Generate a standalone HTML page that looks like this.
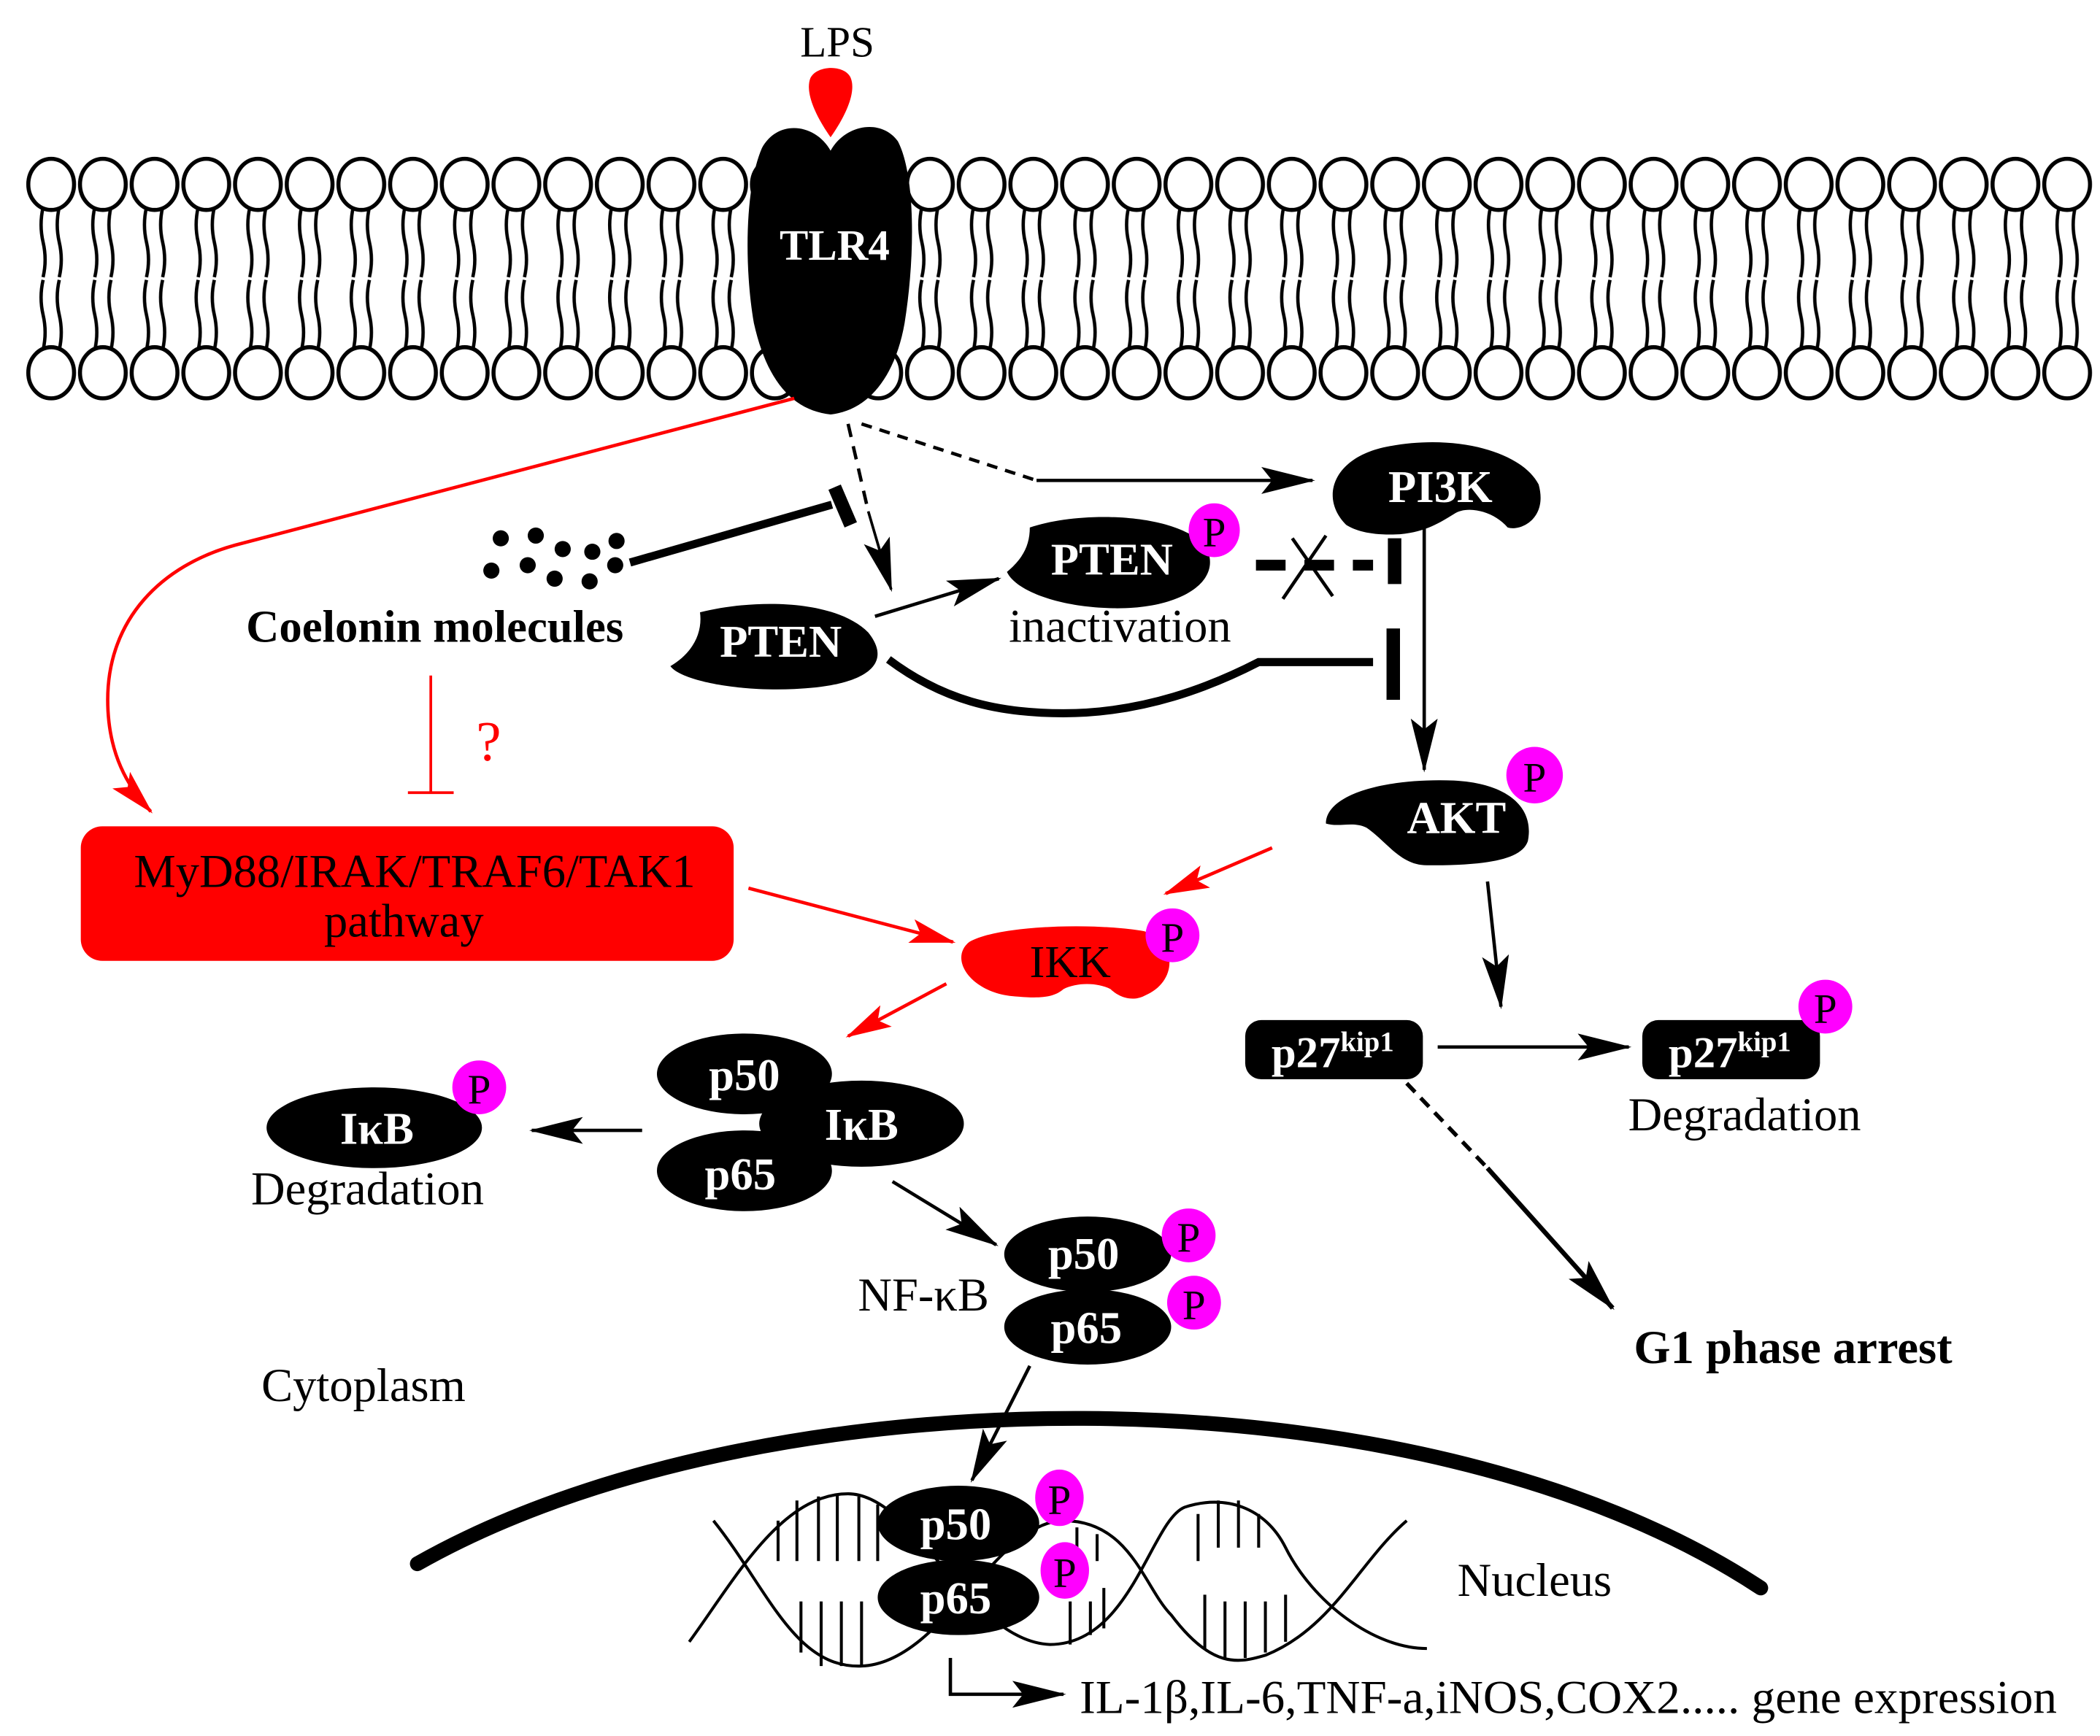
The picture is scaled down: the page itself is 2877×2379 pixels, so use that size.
<!DOCTYPE html>
<html><head><meta charset="utf-8"><style>html,body{margin:0;padding:0;background:#fff}svg{display:block}</style></head>
<body>
<svg xmlns="http://www.w3.org/2000/svg" width="2877" height="2379" viewBox="0 0 1560 1290" font-family="Liberation Serif, serif">
<defs>
<pattern id="lip" x="19" y="0" width="38.4" height="1290" patternUnits="userSpaceOnUse">
<g fill="#fff" stroke="#000" stroke-width="3">
<path d="M13 154 q-3 13 0 26 q3 13 0 26 M25 154 q-3 13 0 26 q3 13 0 26 M13 208 q-3 13 0 26 q3 13 0 26 M25 208 q-3 13 0 26 q3 13 0 26" fill="none" stroke-width="2.5"/>
<ellipse cx="19" cy="137" rx="17" ry="19"/>
<ellipse cx="19" cy="277" rx="17" ry="19"/>
</g>
</pattern>
<marker id="ahb" markerWidth="40" markerHeight="20" refX="38" refY="10" orient="auto" markerUnits="userSpaceOnUse"><path d="M0 0L40 10L0 20L8 10z" fill="#000"/></marker>
<marker id="ahr" markerWidth="34" markerHeight="18" refX="32" refY="9" orient="auto" markerUnits="userSpaceOnUse"><path d="M0 0L34 9L0 18L7 9z" fill="red"/></marker>
</defs>
<rect x="0" y="0" width="1560" height="1290" fill="#fff"/>
<rect x="19" y="100" width="1536" height="200" fill="url(#lip)"/>

<text x="622" y="42" font-size="32" text-anchor="middle">LPS</text>
<path d="M617 102 C605 85 598 68 602 58 C607 48 628 48 632 58 C636 68 629 85 617 102Z" fill="red"/>
<path d="M617 112 C606 92 578 88 566 110 C553 140 553 200 560 240 C570 285 590 305 617 308 C645 305 665 280 672 240 C680 190 680 130 667 105 C655 88 628 92 617 112Z" fill="#000"/>
<text x="620" y="193" font-size="32" font-weight="bold" fill="#fff" text-anchor="middle">TLR4</text>

<path d="M590 296 L175 405 C120 420 80 460 80 520 C80 560 95 585 112 603" fill="none" stroke="red" stroke-width="2.5" marker-end="url(#ahr)"/>

<path d="M640 315 L770 357" stroke="#000" stroke-width="2.5" stroke-dasharray="8,6" fill="none"/>
<path d="M770 357 L975 357" stroke="#000" stroke-width="2.5" fill="none" marker-end="url(#ahb)"/>
<path d="M630 315 L645 380" stroke="#000" stroke-width="2.5" stroke-dasharray="10,7" fill="none"/>
<path d="M645 380 L662 438" stroke="#000" stroke-width="2" fill="none" marker-end="url(#ahb)"/>

<g fill="#000">
<circle cx="372" cy="400" r="6"/><circle cx="398" cy="398" r="6"/><circle cx="418" cy="408" r="6"/><circle cx="440" cy="410" r="6"/><circle cx="458" cy="402" r="6"/>
<circle cx="365" cy="424" r="6"/><circle cx="392" cy="420" r="6"/><circle cx="412" cy="430" r="6"/><circle cx="438" cy="432" r="6"/><circle cx="457" cy="420" r="6"/>
</g>
<path d="M468 418 L618 375" stroke="#000" stroke-width="6"/>
<path d="M620 362 L632 390" stroke="#000" stroke-width="10"/>
<text x="323" y="477" font-size="34" font-weight="bold" text-anchor="middle">Coelonin molecules</text>
<path d="M320 502 L320 588 M303 589 L337 589" stroke="red" stroke-width="2"/>
<text x="363" y="565" font-size="42" fill="red" text-anchor="middle">?</text>

<rect x="60" y="614" width="485" height="100" rx="16" fill="red"/>
<text x="308" y="659" font-size="35" text-anchor="middle">MyD88/IRAK/TRAF6/TAK1</text>
<text x="300" y="696" font-size="35" text-anchor="middle">pathway</text>
<path d="M556 660 L708 700" stroke="red" stroke-width="2.5" marker-end="url(#ahr)"/>

<path d="M520 455 C560 445 620 445 645 470 C665 495 640 510 590 512 C545 514 505 505 498 495 C515 485 522 470 520 455Z" fill="#000"/>
<text x="580" y="488" font-size="34" font-weight="bold" fill="#fff" text-anchor="middle">PTEN</text>
<path d="M650 458 L742 430" stroke="#000" stroke-width="2.5" marker-end="url(#ahb)"/>
<path d="M660 490 C700 520 740 530 790 530 C850 530 900 510 935 492 L1020 492" stroke="#000" stroke-width="6" fill="none"/>
<path d="M1035 467 L1035 520" stroke="#000" stroke-width="10"/>

<path d="M765 392 C800 380 870 380 895 405 C910 430 880 452 830 452 C790 452 755 440 748 425 C760 415 765 405 765 392Z" fill="#000"/>
<text x="826" y="427" font-size="34" font-weight="bold" fill="#fff" text-anchor="middle">PTEN</text>
<ellipse cx="902" cy="394" rx="19" ry="20" fill="#ff00ff"/>
<text x="902" y="406" font-size="31" text-anchor="middle">P</text>
<text x="832" y="477" font-size="35" text-anchor="middle">inactivation</text>
<path d="M933 420 L1020 420" stroke="#000" stroke-width="8" stroke-dasharray="22,14"/>
<path d="M953 445 L985 398 M960 400 L990 443" stroke="#000" stroke-width="2.5"/>
<path d="M1036 400 L1036 434" stroke="#000" stroke-width="10"/>

<path d="M1000 390 C980 370 990 340 1030 332 C1080 322 1130 335 1143 360 C1150 385 1130 395 1120 392 C1110 380 1090 375 1080 382 C1070 388 1060 395 1040 397 C1020 398 1008 395 1000 390Z" fill="#000"/>
<text x="1070" y="373" font-size="34" font-weight="bold" fill="#fff" text-anchor="middle">PI3K</text>
<path d="M1058 390 L1058 572" stroke="#000" stroke-width="2.5" marker-end="url(#ahb)"/>

<path d="M985 612 C985 590 1030 578 1080 580 C1120 582 1140 600 1135 625 C1130 640 1100 643 1060 643 C1040 643 1030 625 1015 615 C1005 610 995 615 985 612Z" fill="#000"/>
<text x="1082" y="619" font-size="34" font-weight="bold" fill="#fff" text-anchor="middle">AKT</text>
<ellipse cx="1140" cy="576" rx="21" ry="21" fill="#ff00ff"/>
<text x="1140" y="588" font-size="31" text-anchor="middle">P</text>
<path d="M945 630 L866 664" stroke="red" stroke-width="2.5" marker-end="url(#ahr)"/>
<path d="M1105 655 L1115 748" stroke="#000" stroke-width="2.5" marker-end="url(#ahb)"/>

<path d="M720 700 C740 688 810 685 850 692 C875 700 875 730 850 740 C840 745 830 740 825 735 C815 730 800 730 790 735 C782 742 770 742 750 740 C720 736 705 712 720 700Z" fill="red"/>
<text x="795" y="726" font-size="34" text-anchor="middle">IKK</text>
<ellipse cx="871" cy="695" rx="20" ry="20" fill="#ff00ff"/>
<text x="871" y="707" font-size="31" text-anchor="middle">P</text>
<path d="M703 731 L630 770" stroke="red" stroke-width="2.5" marker-end="url(#ahr)"/>

<ellipse cx="640" cy="835" rx="76" ry="32" fill="#000"/>
<ellipse cx="553" cy="798" rx="65" ry="30" fill="#000"/>
<ellipse cx="553" cy="870" rx="65" ry="30" fill="#000"/>
<text x="553" y="810" font-size="34" font-weight="bold" fill="#fff" text-anchor="middle">p50</text>
<text x="640" y="847" font-size="34" font-weight="bold" fill="#fff" text-anchor="middle">IκB</text>
<text x="550" y="884" font-size="34" font-weight="bold" fill="#fff" text-anchor="middle">p65</text>
<path d="M477 840 L395 840" stroke="#000" stroke-width="2.5" marker-end="url(#ahb)"/>
<ellipse cx="278" cy="838" rx="80" ry="30" fill="#000"/>
<text x="280" y="850" font-size="34" font-weight="bold" fill="#fff" text-anchor="middle">IκB</text>
<ellipse cx="356" cy="808" rx="20" ry="20" fill="#ff00ff"/>
<text x="356" y="820" font-size="31" text-anchor="middle">P</text>
<text x="273" y="895" font-size="35" text-anchor="middle">Degradation</text>
<path d="M663 878 L740 925" stroke="#000" stroke-width="2.5" marker-end="url(#ahb)"/>

<ellipse cx="808" cy="932" rx="62" ry="28" fill="#000"/>
<ellipse cx="808" cy="986" rx="62" ry="28" fill="#000"/>
<text x="805" y="943" font-size="34" font-weight="bold" fill="#fff" text-anchor="middle">p50</text>
<text x="807" y="998" font-size="34" font-weight="bold" fill="#fff" text-anchor="middle">p65</text>
<ellipse cx="883" cy="918" rx="20" ry="20" fill="#ff00ff"/>
<text x="883" y="930" font-size="31" text-anchor="middle">P</text>
<ellipse cx="887" cy="968" rx="20" ry="20" fill="#ff00ff"/>
<text x="887" y="980" font-size="31" text-anchor="middle">P</text>
<text x="686" y="974" font-size="35" text-anchor="middle">NF-κB</text>
<text x="270" y="1041" font-size="35" text-anchor="middle">Cytoplasm</text>
<path d="M765 1015 L722 1100" stroke="#000" stroke-width="2.5" marker-end="url(#ahb)"/>

<rect x="925" y="758" width="132" height="44" rx="12" fill="#000"/>
<text x="990" y="793" font-size="33" font-weight="bold" fill="#fff" text-anchor="middle">p27<tspan font-size="21" dy="-12">kip1</tspan></text>
<path d="M1068 778 L1210 778" stroke="#000" stroke-width="2.5" marker-end="url(#ahb)"/>
<rect x="1220" y="758" width="132" height="44" rx="12" fill="#000"/>
<text x="1285" y="793" font-size="33" font-weight="bold" fill="#fff" text-anchor="middle">p27<tspan font-size="21" dy="-12">kip1</tspan></text>
<ellipse cx="1356" cy="748" rx="20" ry="20" fill="#ff00ff"/>
<text x="1356" y="760" font-size="31" text-anchor="middle">P</text>
<text x="1296" y="840" font-size="35" text-anchor="middle">Degradation</text>
<path d="M1045 805 L1105 868" stroke="#000" stroke-width="3" stroke-dasharray="9,6"/>
<path d="M1105 868 L1198 972" stroke="#000" stroke-width="3.5" marker-end="url(#ahb)"/>
<text x="1332" y="1013" font-size="35" font-weight="bold" text-anchor="middle">G1 phase arrest</text>

<path d="M310 1162 C560 1020 1050 1010 1308 1180" stroke="#000" stroke-width="11" fill="none" stroke-linecap="round"/>
<text x="1140" y="1186" font-size="35" text-anchor="middle">Nucleus</text>

<g stroke="#000" stroke-width="2.2" fill="none">
<path d="M530 1130 C570 1180 590 1240 640 1238 C700 1236 740 1130 790 1130 C840 1130 850 1180 870 1200 C900 1240 920 1236 940 1230 C990 1210 1010 1160 1045 1130"/>
<path d="M512 1220 C545 1175 580 1110 630 1110 C680 1110 720 1220 780 1222 C840 1222 855 1130 880 1120 C910 1110 940 1120 955 1150 C975 1190 1020 1225 1060 1225"/>
<path d="M578 1130 V1160 M592 1115 V1160 M608 1112 V1160 M622 1110 V1160 M638 1112 V1160 M652 1118 V1160 M595 1190 V1228 M610 1190 V1238 M625 1190 V1238 M640 1190 V1238 M800 1135 V1165 M815 1140 V1160 M795 1190 V1222 M810 1190 V1215 M820 1180 V1210 M890 1125 V1160 M905 1115 V1150 M920 1115 V1150 M935 1125 V1150 M895 1185 V1225 M910 1190 V1232 M925 1190 V1232 M940 1190 V1228 M955 1185 V1220"/>
</g>
<ellipse cx="712" cy="1132" rx="60" ry="28" fill="#000"/>
<ellipse cx="712" cy="1187" rx="60" ry="28" fill="#000"/>
<text x="710" y="1144" font-size="34" font-weight="bold" fill="#fff" text-anchor="middle">p50</text>
<text x="710" y="1199" font-size="34" font-weight="bold" fill="#fff" text-anchor="middle">p65</text>
<ellipse cx="787" cy="1113" rx="18" ry="21" fill="#ff00ff"/>
<text x="787" y="1125" font-size="31" text-anchor="middle">P</text>
<ellipse cx="791" cy="1167" rx="18" ry="21" fill="#ff00ff"/>
<text x="791" y="1179" font-size="31" text-anchor="middle">P</text>
<path d="M706 1232 L706 1259 L790 1259" stroke="#000" stroke-width="2.5" fill="none" marker-end="url(#ahb)"/>
<text x="802" y="1273" font-size="35" textLength="726" lengthAdjust="spacingAndGlyphs">IL-1β,IL-6,TNF-a,iNOS,COX2..... gene expression</text>
</svg>
</body></html>
